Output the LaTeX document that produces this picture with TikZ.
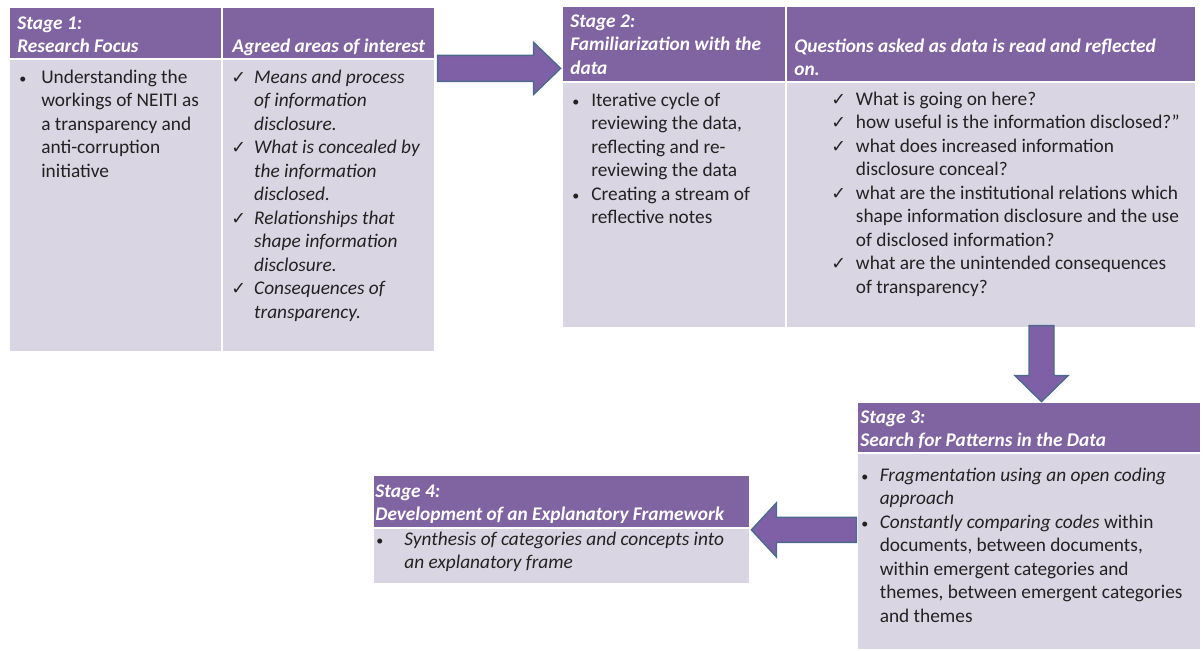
\documentclass[tikz,border=0pt]{standalone}
\usepackage{fontspec}
\setmainfont{Carlito}
\newfontfamily\symfont{DejaVu Sans}
\usetikzlibrary{fit,calc}

\definecolor{hdrpurple}{HTML}{8064A2}
\definecolor{bodygray}{HTML}{D9D5E2}
\definecolor{arrowfill}{HTML}{7F60A6}
\definecolor{arrowedge}{HTML}{4D6A8E}
\definecolor{textdark}{HTML}{222222}

\newcommand\hdrfont{\fontsize{11}{13.4}\selectfont\bfseries\itshape}
\newcommand\bdyfont{\fontsize{11}{13.4}\selectfont}
\newcommand\bul{{\fontsize{8}{8}\selectfont\upshape •}}
\newcommand\chk{{\symfont\fontsize{10}{10}\selectfont\upshape ✓}}
\newcommand\lst[2]{\begin{tabular}[t]{@{}p{#1}@{}l@{}}#2\end{tabular}}
\newcommand\hdl[1]{\begin{tabular}[t]{@{}l@{}}#1\end{tabular}}

\tikzset{
 hdrcell/.style={fill=hdrpurple,draw=white,line width=0.7pt,inner sep=0pt},
 bdycell/.style={fill=bodygray,draw=white,line width=0.7pt,inner sep=0pt},
 hdrtext/.style={anchor=base west,inner sep=0pt,text=white,font=\hdrfont},
 bdytext/.style={anchor=base west,inner sep=0pt,text=textdark,font=\bdyfont},
 blockarrow/.style={fill=arrowfill,draw=arrowedge,line width=0.8pt}
}

\begin{document}
\begin{tikzpicture}[x=0.02cm,y=-0.02cm]
\useasboundingbox (0,0) rectangle (1203,650);

% stage 1
\node[hdrcell, fit={(9,7) (222,59)}] (s1hl) {};
\node[hdrcell, fit={(222,7) (435,59)}] (s1hr) {};
\node[bdycell, fit={(9,59) (222,352)}] (s1bl) {};
\node[bdycell, fit={(222,59) (435,352)}] (s1br) {};
\node[hdrtext] (s1t1) at (17,29) {\hdl{Stage 1:\\Research Focus}};
\node[hdrtext] (s1t2) at (232,52) {\hdl{Agreed areas of interest}};
\node[bdytext] (s1l) at (19,83) {\lst{12.5pt}{\bul & Understanding the\\
  & workings of NEITI as\\ & a transparency and\\ & anti-corruption\\ & initiative}};
\node[bdytext, font=\bdyfont\itshape] (s1r) at (231,83) {\lst{13pt}{\chk & Means and process\\
  & of information\\ & disclosure.\\
  \chk & What is concealed by\\ & the information\\ & disclosed.\\
  \chk & Relationships that\\ & shape information\\ & disclosure.\\
  \chk & Consequences of\\ & transparency.}};

% stage 2
\node[hdrcell, fit={(562,6) (786,82)}] (s2hl) {};
\node[hdrcell, fit={(786,6) (1196,82)}] (s2hr) {};
\node[bdycell, fit={(562,82) (786,328)}] (s2bl) {};
\node[bdycell, fit={(786,82) (1196,328)}] (s2br) {};
\node[hdrtext] (s2t1) at (570,27) {\hdl{Stage 2:\\Familiarization with the\\data}};
\node[hdrtext] (s2t2) at (794,52) {\hdl{Questions asked as data is read and reflected\\on.}};
\node[bdytext] (s2l) at (572,106) {\lst{10.8pt}{\bul & Iterative cycle of\\
  & reviewing the data,\\ & reflecting and re-\\ & reviewing the data\\
  \bul & Creating a stream of\\ & reflective notes}};
\node[bdytext] (s2r) at (831,105) {\lst{14pt}{\chk & What is going on here?\\
  \chk & how useful is the information disclosed?”\\
  \chk & what does increased information\\ & disclosure conceal?\\
  \chk & what are the institutional relations which\\
  & shape information disclosure and the use\\ & of disclosed information?\\
  \chk & what are the unintended consequences\\ & of transparency?}};

% stage 3
\node[hdrcell, fit={(857,402) (1201,453)}] (s3h) {};
\node[bdycell, fit={(857,453) (1201,650)}] (s3b) {};
\node[hdrtext] (s3t) at (860,423) {\hdl{Stage 3:\\Search for Patterns in the Data}};
\node[bdytext] (s3l) at (861,481) {\lst{10.5pt}{\bul & \textit{Fragmentation using an open coding}\\
  & \textit{approach}\\
  \bul & \textit{Constantly comparing codes} within\\
  & documents, between documents,\\ & within emergent categories and\\
  & themes, between emergent categories\\ & and themes}};

% stage 4
\node[hdrcell, fit={(373,475) (750,528)}] (s4h) {};
\node[bdycell, fit={(373,528) (750,584)}] (s4b) {};
\node[hdrtext] (s4t) at (375,497) {\hdl{Stage 4:\\Development of an Explanatory Framework}};
\node[bdytext, font=\bdyfont\itshape] (s4l) at (376,545) {\lst{16pt}{\bul & Synthesis of categories and concepts into\\
  & an explanatory frame}};

% arrows
\begin{scope}[shift={($(s1br.north east)+(2,10)$)}]
  \draw[blockarrow] (0,-13) -- (96,-13) -- (96,-26) -- (123,0) -- (96,26) -- (96,13) -- (0,13) -- cycle;
\end{scope}
\begin{scope}[shift={($(s2br.south)+(50.5,-3)$)}, rotate=-90]
  \draw[blockarrow] (0,-12.5) -- (50,-12.5) -- (50,-26.5) -- (76,0) -- (50,26.5) -- (50,12.5) -- (0,12.5) -- cycle;
\end{scope}
\begin{scope}[shift={($(s3b.north west)+(0,77.5)$)}, rotate=180]
  \draw[blockarrow] (0,-12.5) -- (80,-12.5) -- (80,-27) -- (105,0) -- (80,27) -- (80,12.5) -- (0,12.5) -- cycle;
\end{scope}

\end{tikzpicture}
\end{document}
